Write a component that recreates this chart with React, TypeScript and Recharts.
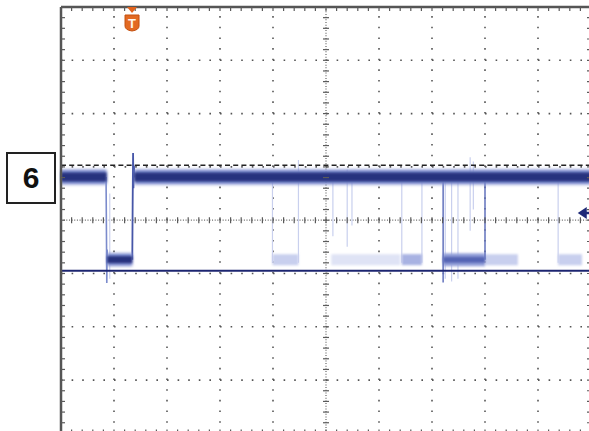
import React from 'react';
import { ComposedChart, XAxis, YAxis, Line, Scatter, ReferenceLine } from 'recharts';

// Grid positions (divisions)
const gridX = [1, 2, 3, 4, 6, 7, 8, 9];
const gridY = [1, 2, 3, 5, 6, 7];
const minorX = [0, 0.2, 0.4, 0.6, 0.8, 1, 1.2, 1.4, 1.6, 1.8, 2, 2.2, 2.4, 2.6, 2.8, 3, 3.2, 3.4, 3.6, 3.8, 4, 4.2, 4.4, 4.6, 4.8, 5, 5.2, 5.4, 5.6, 5.8, 6, 6.2, 6.4, 6.6, 6.8, 7, 7.2, 7.4, 7.6, 7.8, 8, 8.2, 8.4, 8.6, 8.8, 9, 9.2, 9.4, 9.6, 9.8, 10];
const minorY = [0, 0.2, 0.4, 0.6, 0.8, 1, 1.2, 1.4, 1.6, 1.8, 2, 2.2, 2.4, 2.6, 2.8, 3, 3.2, 3.4, 3.6, 3.8, 4, 4.2, 4.4, 4.6, 4.8, 5, 5.2, 5.4, 5.6, 5.8, 6, 6.2, 6.4, 6.6, 6.8, 7, 7.2, 7.4, 7.6, 7.8, 8];

// Levels (divisions from bottom)
const HIGH = 4.81;
const LOW = 3.26;
const GROUND = 3.05;
const CURSOR = 5.03;
const TRIG_LEVEL = 4.135;
const TRIG_X = 1.34;
const ARROW_X = 9.75;

// Main trace segments [xStart, xEnd]
const mainHigh = [[0, 0.86], [1.385, 10]];
const mainLow = [[0.872, 1.345]];
const fallingEdge = [[0.85, 4.81], [0.858, 3.7], [0.864, 2.82], [0.87, 3.45], [0.88, 3.2]];
const risingEdge = [[1.345, 3.26], [1.352, 4.3], [1.36, 5.26], [1.367, 4.6], [1.376, 5.02], [1.39, 4.8]];

// Persistence (faint) low segments
const veryFaintLow = [[5.1, 6.4]];
const faintLow = [[3.99, 4.48], [8.0, 8.62], [9.38, 9.83]];
const mediumLow = [[6.43, 6.81]];
const darkLow = [[7.21, 8.0]];

// Faint vertical edges [x, yTop, yBottom]
const faintEdges = [
  [0.92, 4.5, 2.9], [3.99, 4.81, 3.2], [4.48, 5.13, 3.2], [5.13, 4.81, 3.7], [5.4, 4.95, 3.5], [5.49, 4.81, 3.9],
  [6.43, 4.81, 3.2], [6.81, 4.81, 3.2], [7.25, 4.81, 2.9], [7.37, 4.81, 2.85],
  [7.49, 4.81, 2.9], [7.72, 5.18, 3.8], [7.78, 5.1, 4.2], [9.38, 4.81, 3.2],
];
const darkEdges = [[8.0, 4.81, 3.26], [7.21, 4.81, 2.83]];

type Pt = { x: number; y: number | null };

const segs = (list: number[][], y: number): Pt[] => {
  const out: Pt[] = [];
  list.forEach(([a, b], i) => {
    if (i > 0) out.push({ x: (a + list[i - 1][1]) / 2, y: null });
    out.push({ x: a, y }, { x: b, y });
  });
  return out;
};
const vsegs = (list: number[][]): Pt[] => {
  const out: Pt[] = [];
  list.forEach(([x, t, b], i) => {
    if (i > 0) out.push({ x, y: null });
    out.push({ x, y: t }, { x, y: b });
  });
  return out;
};
const poly = (list: number[][]): Pt[] => list.map(([x, y]) => ({ x, y }));

const highData = segs(mainHigh, HIGH);
const lowData = segs(mainLow, LOW);
const veryFaintLowData = segs(veryFaintLow, LOW);
const faintLowData = segs(faintLow, LOW);
const mediumLowData = segs(mediumLow, LOW);
const darkLowData = segs(darkLow, LOW);
const faintEdgeData = vsegs(faintEdges);
const darkEdgeData = vsegs(darkEdges);
const fallData = poly(fallingEdge);
const riseData = poly(risingEdge);

const topTicks = minorX.map((x) => ({ x, y: 8 }));
const bottomTicks = minorX.map((x) => ({ x, y: 0 }));
const centerHTicks = minorX.map((x) => ({ x, y: 4 }));
const leftTicks = minorY.map((y) => ({ x: 0, y }));
const rightTicks = minorY.map((y) => ({ x: 10, y }));
const centerVTicks = minorY.map((y) => ({ x: 5, y }));

const TICK = '#5a5a5a';
const tickShape = (dx1: number, dy1: number, dx2: number, dy2: number) => (p: any) => (
  <line x1={p.cx + dx1} y1={p.cy + dy1} x2={p.cx + dx2} y2={p.cy + dy2} stroke={TICK} strokeWidth={1.2} />
);

const TriggerMark = (p: any) => {
  const { cx, cy } = p;
  return (
    <g>
      <polygon points={`${cx - 5},${cy} ${cx + 5},${cy} ${cx},${cy + 6}`} fill="#e2631c" />
      <path
        d={`M${cx - 7},${cy + 8} L${cx + 7},${cy + 8} L${cx + 7},${cy + 19} Q${cx + 7},${cy + 23} ${cx},${cy + 24} Q${cx - 7},${cy + 23} ${cx - 7},${cy + 19} Z`}
        fill="#e36a22"
        stroke="#c4500f"
        strokeWidth={1}
      />
      <text x={cx} y={cy + 21} textAnchor="middle" fontFamily="Liberation Sans, Arial, sans-serif" fontWeight="bold" fontSize={13} fill="#fff6ee">
        T
      </text>
    </g>
  );
};

const LevelArrow = (p: any) => {
  const { cx, cy } = p;
  return (
    <g>
      <polygon points={`${cx},${cy} ${cx + 9},${cy - 6} ${cx + 9},${cy + 6}`} fill="#1f2a78" />
      <line x1={cx + 6} y1={cy} x2={cx + 20} y2={cy} stroke="#1f2a78" strokeWidth={2.5} />
    </g>
  );
};

const trigData = [{ x: TRIG_X, y: 8 }];
const arrowData = [{ x: ARROW_X, y: TRIG_LEVEL }];

const L = { dot: false, activeDot: false, isAnimationActive: false, connectNulls: false, dataKey: 'y' } as const;

export default function App() {
  return (
    <div style={{ position: 'absolute', left: 0, top: 0, width: 589, height: 431, overflow: 'hidden', background: '#fff' }}>
      <svg width={0} height={0} style={{ position: 'absolute' }}>
        <defs>
          <filter id="soft2" filterUnits="userSpaceOnUse" x="0" y="0" width="600" height="440">
            <feGaussianBlur stdDeviation="1.8" />
          </filter>
          <filter id="soft1" filterUnits="userSpaceOnUse" x="0" y="0" width="600" height="440">
            <feGaussianBlur stdDeviation="0.9" />
          </filter>
        </defs>
      </svg>
      <ComposedChart width={600} height={440} margin={{ top: 7, left: 61, right: 9, bottom: 6.6 }}>
        <XAxis dataKey="x" type="number" domain={[0, 10]} hide />
        <YAxis dataKey="y" type="number" domain={[0, 8]} hide />

        {gridY.map((y) => (
          <ReferenceLine key={'gy' + y} y={y} stroke="#555" strokeWidth={1.6} strokeDasharray="1.6 9" />
        ))}
        {gridX.map((x) => (
          <ReferenceLine key={'gx' + x} x={x} stroke="#555" strokeWidth={1.6} strokeDasharray="1.6 9.06" />
        ))}
        <ReferenceLine y={4} stroke="#666" strokeWidth={1.2} strokeDasharray="1 1.65" />
        <ReferenceLine x={5} stroke="#666" strokeWidth={1.2} strokeDasharray="1 1.665" />

        <Scatter data={topTicks} shape={tickShape(0, 0, 0, 4)} isAnimationActive={false} />
        <Scatter data={bottomTicks} shape={tickShape(0, 0, 0, -4)} isAnimationActive={false} />
        <Scatter data={leftTicks} shape={tickShape(0, 0, 4, 0)} isAnimationActive={false} />
        <Scatter data={rightTicks} shape={tickShape(0, 0, -4, 0)} isAnimationActive={false} />
        <Scatter data={centerHTicks} shape={tickShape(0, -3, 0, 3)} isAnimationActive={false} />
        <Scatter data={centerVTicks} shape={tickShape(-3, 0, 3, 0)} isAnimationActive={false} />

        <Line {...L} data={faintEdgeData} stroke="#c9d0ee" strokeWidth={1.2} />
        <Line {...L} data={veryFaintLowData} stroke="#dfe3f5" strokeWidth={11} filter="url(#soft1)" />
        <Line {...L} data={faintLowData} stroke="#c8cfee" strokeWidth={11} filter="url(#soft1)" />
        <Line {...L} data={mediumLowData} stroke="#a8b2e2" strokeWidth={11} filter="url(#soft1)" />
        <Line {...L} data={darkLowData} stroke="#95a1da" strokeWidth={13} filter="url(#soft1)" />
        <Line {...L} data={darkLowData} stroke="#5565b4" strokeWidth={6} filter="url(#soft1)" />
        <Line {...L} data={darkEdgeData} stroke="#6373bd" strokeWidth={1.5} />

        <Line {...L} data={fallData} stroke="#7b8bcc" strokeWidth={1.6} />
        <Line {...L} data={riseData} stroke="#4656a8" strokeWidth={1.8} />

        <Line {...L} data={highData} stroke="#7f8dd0" strokeWidth={15} filter="url(#soft2)" />
        <Line {...L} data={highData} stroke="#26327e" strokeWidth={9} filter="url(#soft1)" />
        <Line {...L} data={lowData} stroke="#7f8dd0" strokeWidth={13} filter="url(#soft2)" />
        <Line {...L} data={lowData} stroke="#26327e" strokeWidth={7} filter="url(#soft1)" />

        <ReferenceLine y={CURSOR} stroke="#222" strokeWidth={1.6} strokeDasharray="5 3.2" />
        <ReferenceLine y={GROUND} stroke="#1c2570" strokeWidth={2} />
        <ReferenceLine y={8} stroke="#555" strokeWidth={2.5} />
        <ReferenceLine x={0} stroke="#555" strokeWidth={2.5} />
        <ReferenceLine y={0} stroke="#555" strokeWidth={2.5} />
        <ReferenceLine x={10} stroke="#555" strokeWidth={2.5} />

        <Scatter data={trigData} shape={TriggerMark} isAnimationActive={false} />
        <Scatter data={arrowData} shape={LevelArrow} isAnimationActive={false} />
      </ComposedChart>
      <div
        style={{
          position: 'absolute',
          left: 6,
          top: 152,
          width: 46,
          height: 48,
          border: '2px solid #222',
          display: 'flex',
          alignItems: 'center',
          justifyContent: 'center',
          fontFamily: 'Liberation Sans, Arial, sans-serif',
          fontWeight: 'bold',
          fontSize: 30,
          color: '#111',
          background: '#fff',
        }}
      >
        6
      </div>
    </div>
  );
}
